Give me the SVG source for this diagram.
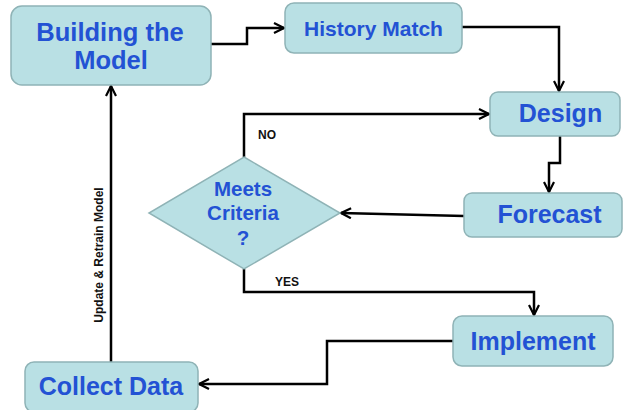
<svg xmlns="http://www.w3.org/2000/svg" width="624" height="410" viewBox="0 0 624 410">
<defs>
<style>
.box{fill:#b9e0e4;stroke:#8fb3b6;stroke-width:1.5}
.t{font-family:"Liberation Sans",Arial,sans-serif;font-weight:bold;fill:#2352d4;text-anchor:middle}
.c{fill:none;stroke:#000;stroke-width:2.5}
.l{font-family:"Liberation Sans",Arial,sans-serif;font-weight:bold;fill:#111;font-size:12px}
</style>
<marker id="ah" viewBox="0 0 12 12" refX="11" refY="6" markerWidth="12" markerHeight="12" markerUnits="userSpaceOnUse" orient="auto">
<path d="M1,1 L11,6 L1,11" fill="none" stroke="#000" stroke-width="2.2"/>
</marker>
</defs>
<rect width="624" height="410" fill="#fff"/>
<g id="connectors">
<polyline class="c" points="211,44 247,44 247,28 284,28" marker-end="url(#ah)"/>
<polyline class="c" points="462,27 559,27 559,91" marker-end="url(#ah)"/>
<polyline class="c" points="560,136 560,163 549,163 549,192" marker-end="url(#ah)"/>
<polyline class="c" points="464,216 341,213" marker-end="url(#ah)"/>
<polyline class="c" points="244,157 244,114 489,114" marker-end="url(#ah)"/>
<polyline class="c" points="244,269 244,292 534,292 534,315" marker-end="url(#ah)"/>
<polyline class="c" points="453,341 327,341 327,384 199,384" marker-end="url(#ah)"/>
<polyline class="c" points="111,362 111,86" marker-end="url(#ah)"/>
<text class="l" x="258" y="139">NO</text>
<text class="l" x="275" y="286">YES</text>
<text class="l" transform="translate(103,255) rotate(-90)" text-anchor="middle" font-size="10.5">Update &amp; Retrain Model</text>
</g>
<g id="building">
<rect class="box" x="11" y="6" width="200" height="79" rx="11"/>
<text class="t" x="110" y="40.5" font-size="25.5">Building the</text>
<text class="t" x="111" y="69" font-size="25.5">Model</text>
</g>
<g id="history">
<rect class="box" x="285" y="3" width="177" height="50" rx="9"/>
<text class="t" x="373.5" y="36" font-size="21">History Match</text>
</g>
<g id="design">
<rect class="box" x="490" y="92" width="130" height="44" rx="8"/>
<text class="t" x="560.5" y="122" font-size="25">Design</text>
</g>
<g id="forecast">
<rect class="box" x="464" y="193" width="158" height="44" rx="8"/>
<text class="t" x="549.5" y="223" font-size="25">Forecast</text>
</g>
<g id="criteria">
<polygon class="box" points="244,157 340,213 244,269 149,213"/>
<text class="t" x="243" y="196" font-size="20.5">Meets</text>
<text class="t" x="243" y="220" font-size="20.5">Criteria</text>
<text class="t" x="243" y="245" font-size="20.5">?</text>
</g>
<g id="implement">
<rect class="box" x="453" y="316" width="160" height="50" rx="9"/>
<text class="t" x="533" y="350" font-size="25">Implement</text>
</g>
<g id="collect">
<rect class="box" x="25" y="362" width="173" height="50" rx="9"/>
<text class="t" x="111" y="395" font-size="25">Collect Data</text>
</g>
</svg>
